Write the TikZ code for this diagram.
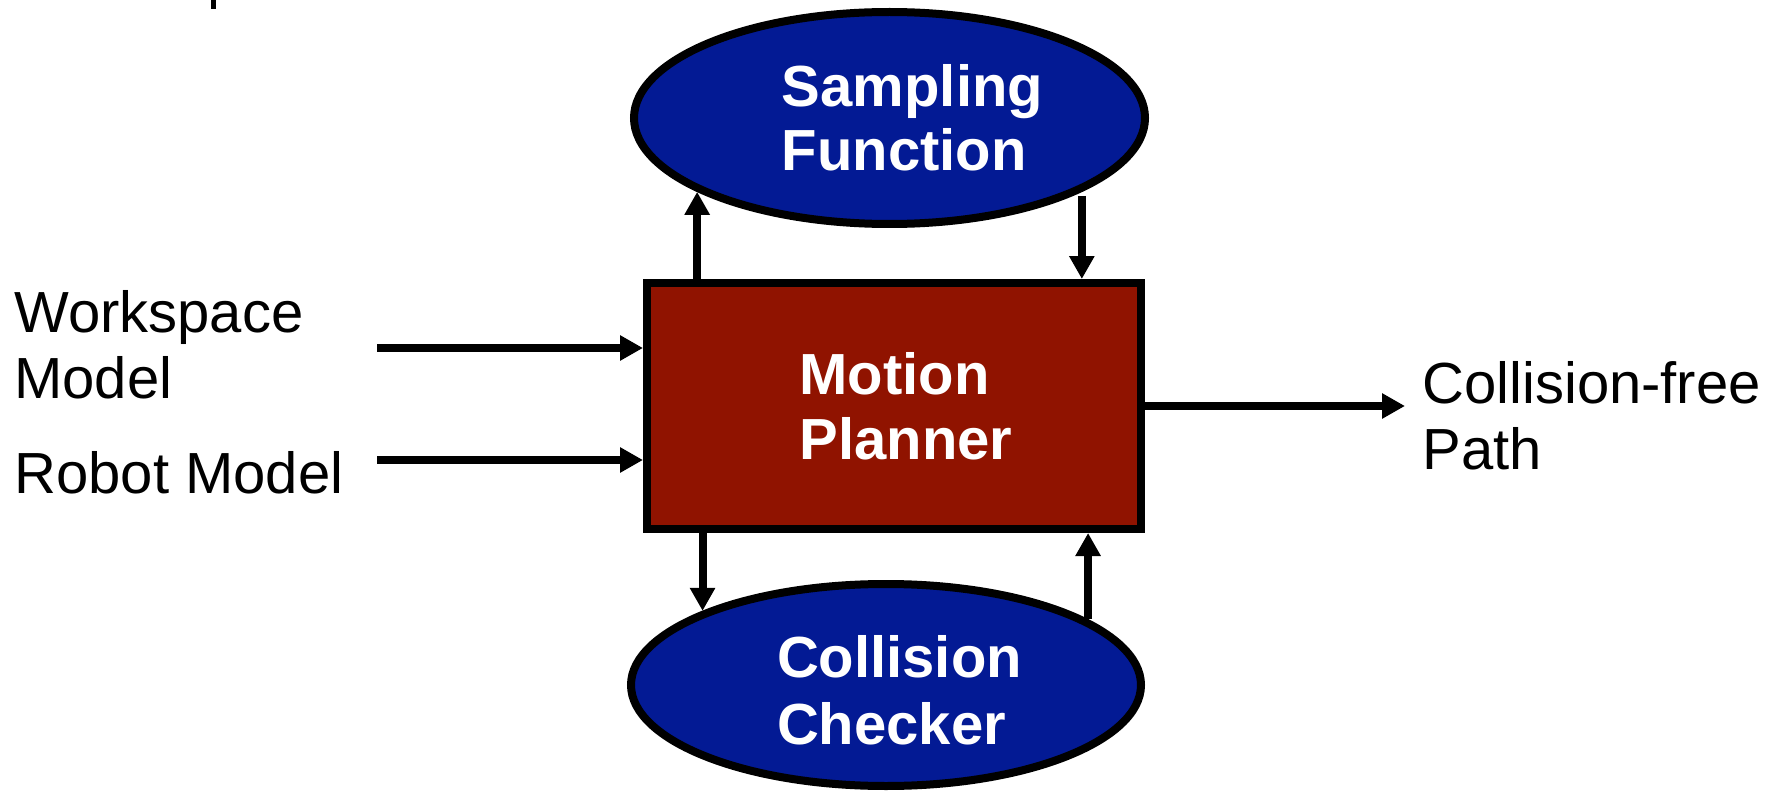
\documentclass[tikz,border=0pt]{standalone}
\usepackage{fontspec}
\setmainfont{Liberation Sans}
\usetikzlibrary{arrows.meta,shapes.geometric}
\definecolor{ellblue}{RGB}{3,26,148}
\definecolor{boxred}{RGB}{144,19,0}
\tikzset{
 ell/.style={ellipse, draw=black, line width=4pt, fill=ellblue, text=white, inner sep=0pt, align=left, font=\bfseries\fontsize{29}{32}\selectfont},
 box/.style={rectangle, draw=black, line width=4pt, fill=boxred, text=white, inner sep=0pt, align=left, font=\bfseries\fontsize{29}{32.5}\selectfont, minimum width=247pt, minimum height=123pt},
 lbl/.style={inner sep=0pt, align=left, font=\fontsize{29}{33}\selectfont},
 arr/.style={line width=4pt, -{Triangle[length=11.5pt,width=12pt]}}
}
\begin{document}
\begin{tikzpicture}[x=0.5pt,y=-0.5pt]
\useasboundingbox (0,0) rectangle (1785,792);
\fill (211,0) rectangle (216,9);
\node[ell, minimum width=255.5pt, minimum height=106pt] (sf) at (889.5,118) {\hspace*{23pt}Sampling\\\hspace*{23pt}Function};
\node[ell, minimum width=255pt, minimum height=101pt, font=\bfseries\fontsize{29}{33.5}\selectfont] (cc) at (886,685) {\hspace*{13.5pt}\rule{0pt}{26.5pt}Collision\\\hspace*{13.5pt}Checker};
\node[box] (mp) at (894,406) {\hspace*{12pt}Motion\\\hspace*{12pt}Planner};
\node[lbl, anchor=west] (ws) at (14,345) {Workspace\\Model};
\node[lbl, anchor=base west] (rm) at (14,493) {Robot Model};
\node[lbl, anchor=west] (cf) at (1422,415.5) {Collision-free\\Path};
\draw[arr] (sf.201 |- mp.north) -- (sf.201);
\draw[arr, shorten <=2pt] (sf.339) -- (sf.339 |- mp.north);
\draw[arr] (mp.south -| cc.158.5) -- (cc.158.5);
\draw[arr] (cc.18) -- (cc.18 |- mp.south);
\coordinate (w1) at (377,348);
\coordinate (r1) at (377,460);
\coordinate (o1) at (1405,406);
\draw[arr] (w1) -- (w1 -| mp.west);
\draw[arr] (r1) -- (r1 -| mp.west);
\draw[arr] (mp.east |- o1) -- (o1);
\end{tikzpicture}
\end{document}
